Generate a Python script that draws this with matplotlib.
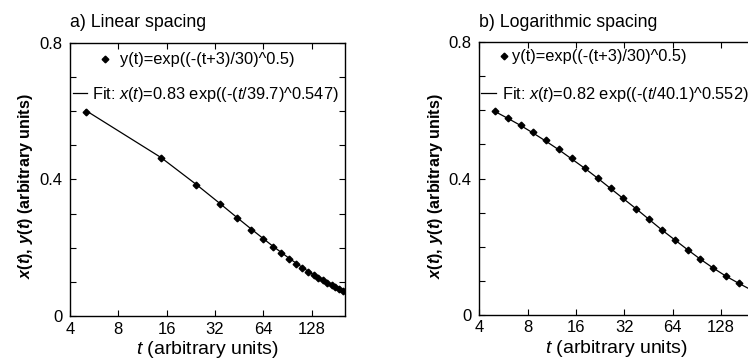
import matplotlib
matplotlib.use("Agg")
import matplotlib.pyplot as plt
from matplotlib.ticker import FixedLocator, FixedFormatter, NullLocator, MultipleLocator
from matplotlib.lines import Line2D

plt.rcParams['font.family'] = ['Liberation Sans', 'DejaVu Sans']
plt.rcParams['mathtext.fontset'] = 'custom'
plt.rcParams['mathtext.rm'] = 'Liberation Sans'
plt.rcParams['mathtext.it'] = 'Liberation Sans:italic'
plt.rcParams['mathtext.bf'] = 'Liberation Sans:bold'
plt.rcParams['mathtext.bfit'] = 'Liberation Sans:italic:bold'

# ---------------- data ----------------
# a) linear spacing
t_lin = [5, 14.75, 24.5, 34.25, 44, 53.75, 63.5, 73.25, 83, 92.75, 102.5,
         112.25, 122, 131.75, 141.5, 151.25, 161, 170.75, 180.5, 190.25, 200]
y_lin = [0.597, 0.463, 0.384, 0.328, 0.286, 0.253, 0.226, 0.203, 0.184, 0.168, 0.153,
         0.141, 0.130, 0.120, 0.111, 0.104, 0.097, 0.090, 0.084, 0.079, 0.074]
fit_lin = [0.602, 0.464, 0.385, 0.330, 0.288, 0.255, 0.228, 0.205, 0.186, 0.169, 0.155,
           0.142, 0.131, 0.121, 0.112, 0.104, 0.097, 0.090, 0.084, 0.079, 0.074]

# b) logarithmic spacing
t_log = [5.0, 6.01, 7.23, 8.70, 10.46, 12.57, 15.12, 18.18, 21.87, 26.30, 31.62,
         38.03, 45.73, 54.99, 66.13, 79.53, 95.64, 115.0, 138.3, 166.3, 200.0]
y_log = [0.597, 0.578, 0.558, 0.536, 0.512, 0.487, 0.460, 0.432, 0.402, 0.372, 0.342,
         0.311, 0.280, 0.249, 0.219, 0.190, 0.163, 0.138, 0.114, 0.093, 0.074]
fit_log = [0.597, 0.577, 0.556, 0.533, 0.509, 0.484, 0.457, 0.430, 0.401, 0.371, 0.341,
           0.311, 0.280, 0.249, 0.220, 0.191, 0.163, 0.137, 0.113, 0.092, 0.072]

x_ticks = [4, 8, 16, 32, 64, 128]
x_ticklabels = ['4', '8', '16', '32', '64', '128']
y_ticks = [0, 0.4, 0.8]
y_ticklabels = ['0', '0.4', '0.8']

titles = ['a) Linear spacing', 'b) Logarithmic spacing']
data_label = 'y(t)=exp((-(t+3)/30)^0.5)'
fit_labels = ['Fit: $x$($t$)=0.83 exp((-($t$/39.7)^0.547)',
              'Fit: $x$($t$)=0.82 exp((-($t$/40.1)^0.552)']
ylabel = r'$\mathbfit{x}\mathbf{(}\mathbfit{t}\mathbf{),}\:\mathbfit{y}\mathbf{(}\mathbfit{t}\mathbf{)\ (arbitrary\ units)}$'
xlabel = r'$t$ (arbitrary units)'

# ---------------- figure ----------------
W, H = 748, 361
fig = plt.figure(figsize=(W / 100, H / 100), dpi=100)


def px_axes(l, t, r, b):
    return fig.add_axes([l / W, 1 - b / H, (r - l) / W, (b - t) / H])


axL = px_axes(70, 42.7, 345, 316)
axR = px_axes(479.3, 42.3, 754.3, 314.8)

FS_TICK = 12
FS_LEG = 11.8
MS = 3.4

panels = [
    (axL, t_lin, y_lin, fit_lin, titles[0], fit_labels[0],
     dict(mx=0.127, my=0.937, mhl=1.0, mtp=0.42),
     dict(lx=0.010, ly=0.812, lhl=0.89, ltp=0.29)),
    (axR, t_log, y_log, fit_log, titles[1], fit_labels[1],
     dict(mx=0.0898, my=0.947, mhl=0.6, mtp=0.2),
     dict(lx=0.005, ly=0.810, lhl=0.915, ltp=0.40)),
]

for ax, t, y, f, title, flabel, mleg, lleg in panels:
    ax.plot(t, f, color='black', lw=0.9, zorder=2)
    ax.plot(t, y, ls='none', marker='D', ms=MS, color='black', zorder=3)

    ax.set_xscale('log', base=2)
    ax.set_xlim(4, 207)
    ax.set_ylim(0, 0.8)
    ax.xaxis.set_major_locator(FixedLocator(x_ticks))
    ax.xaxis.set_major_formatter(FixedFormatter(x_ticklabels))
    ax.xaxis.set_minor_locator(NullLocator())
    ax.yaxis.set_major_locator(FixedLocator(y_ticks))
    ax.yaxis.set_major_formatter(FixedFormatter(y_ticklabels))
    ax.yaxis.set_minor_locator(MultipleLocator(0.1))
    ax.tick_params(which='both', direction='in', top=True, right=True,
                   length=4.3, width=0.8, labelsize=FS_TICK)
    ax.tick_params(axis='x', pad=4)
    ax.tick_params(axis='y', pad=5.5)
    for s in ax.spines.values():
        s.set_linewidth(1.0)

    ax.set_title(title, loc='left', pad=11.3, fontsize=12.8)
    ax.set_ylabel(ylabel, fontsize=11.6, va='center', ha='center')
    ax.yaxis.set_label_coords(-0.16, 0.474)
    ax.set_xlabel(xlabel, fontsize=14, va='center')
    ax.xaxis.set_label_coords(0.5, -0.1226)

    h1 = Line2D([], [], ls='none', marker='D', ms=MS, color='black')
    leg1 = ax.legend([h1], [data_label], loc='center left',
                     bbox_to_anchor=(mleg['mx'] - mleg['mhl'] * FS_LEG * 1.389 / 2 / 275, mleg['my']),
                     frameon=False, fontsize=FS_LEG, handlelength=mleg['mhl'],
                     handletextpad=mleg['mtp'], borderpad=0, borderaxespad=0)
    ax.add_artist(leg1)
    h2 = Line2D([], [], color='black', lw=0.9)
    ax.legend([h2], [flabel], loc='center left',
              bbox_to_anchor=(lleg['lx'], lleg['ly']),
              frameon=False, fontsize=FS_LEG, handlelength=lleg['lhl'],
              handletextpad=lleg['ltp'], borderpad=0, borderaxespad=0)

fig.savefig('out.png', dpi=100)
